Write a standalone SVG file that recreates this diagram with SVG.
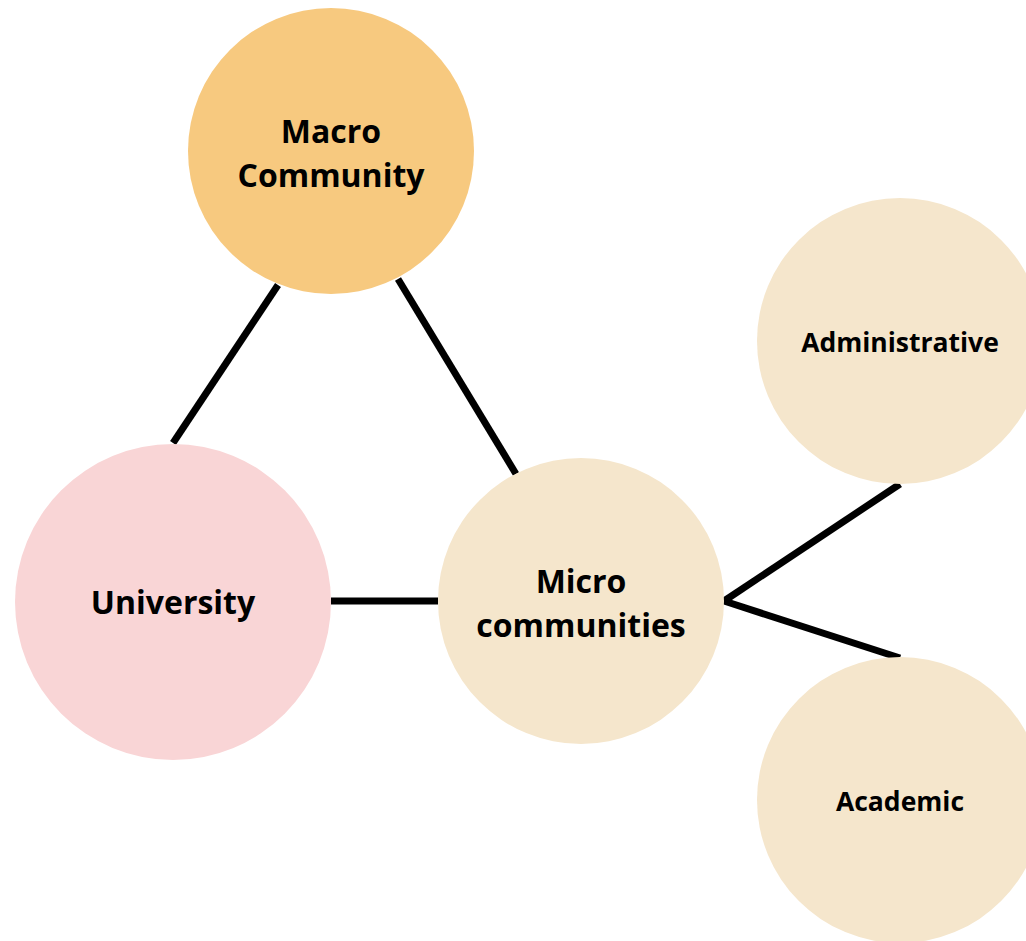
<svg xmlns="http://www.w3.org/2000/svg" width="1026" height="941" viewBox="0 0 1026 941">
<style>
.t{font-family:"Open Sans","Noto Sans","Liberation Sans",sans-serif;font-weight:bold;fill:#000;text-anchor:middle}
.big{font-size:32px}
.small{font-size:26.5px}
.c{stroke:#000;stroke-width:7;fill:none}
</style>
<rect width="1026" height="941" fill="#fff"/>
<g id="connectors">
<line class="c" x1="278" y1="285" x2="173" y2="443"/>
<line class="c" x1="398" y1="279" x2="516" y2="474"/>
<line class="c" x1="331" y1="601" x2="438" y2="601"/>
<line class="c" x1="724" y1="601" x2="900" y2="484"/>
<line class="c" x1="724" y1="601" x2="900" y2="658"/>
</g>
<g id="macro">
<circle cx="331" cy="151" r="143" fill="#F7C97F"/>
<text class="t big" x="331" y="143">Macro</text>
<text class="t big" x="331" y="187">Community</text>
</g>
<g id="university">
<circle cx="173" cy="602" r="158" fill="#F9D5D6"/>
<text class="t big" x="173" y="614">University</text>
</g>
<g id="micro">
<circle cx="581" cy="601" r="143" fill="#F5E6CC"/>
<text class="t big" x="581" y="593">Micro</text>
<text class="t big" x="581" y="637">communities</text>
</g>
<g id="administrative">
<circle cx="900" cy="341" r="143" fill="#F5E6CC"/>
<text class="t small" x="900" y="352">Administrative</text>
</g>
<g id="academic">
<circle cx="900" cy="800" r="143" fill="#F5E6CC"/>
<text class="t small" x="900" y="811">Academic</text>
</g>
</svg>
